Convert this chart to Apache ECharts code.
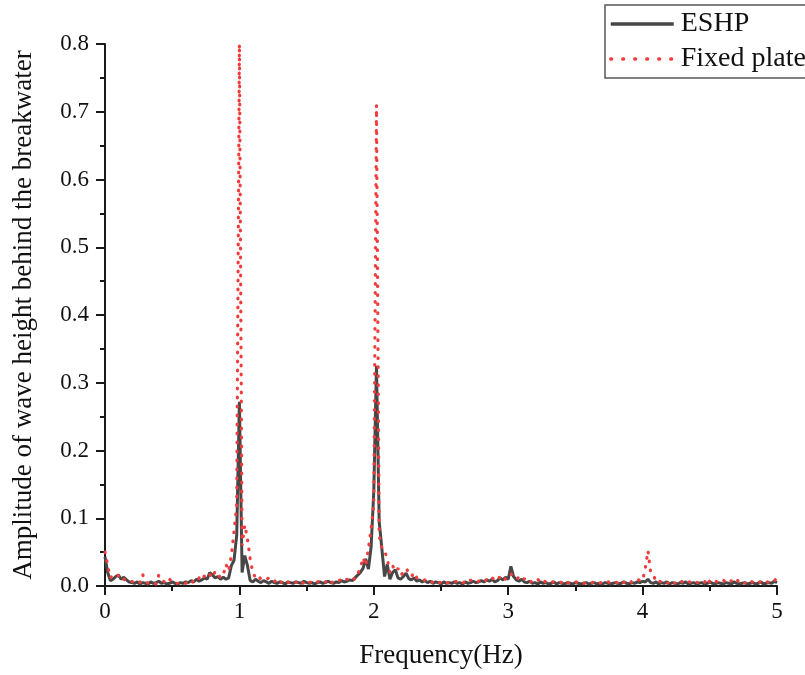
<!DOCTYPE html>
<html>
<head>
<meta charset="utf-8">
<script src="https://cdn.jsdelivr.net/npm/echarts@6/dist/echarts.min.js"></script>
<style>
  html, body { margin: 0; padding: 0; background: #fff; }
  #chart { width: 805px; height: 675px; }
</style>
</head>
<body>
<div id="chart"></div>
<script>
// Frequency bins (Hz), 0.02 Hz spacing
const FREQ = [
  0, 0.02, 0.04, 0.06, 0.08, 0.1, 0.12, 0.14, 0.16, 0.18,
  0.2, 0.22, 0.24, 0.26, 0.28, 0.3, 0.32, 0.34, 0.36, 0.38,
  0.4, 0.42, 0.44, 0.46, 0.48, 0.5, 0.52, 0.54, 0.56, 0.58,
  0.6, 0.62, 0.64, 0.66, 0.68, 0.7, 0.72, 0.74, 0.76, 0.78,
  0.8, 0.82, 0.84, 0.86, 0.88, 0.9, 0.92, 0.94, 0.96, 0.98,
  1, 1.02, 1.04, 1.06, 1.08, 1.1, 1.12, 1.14, 1.16, 1.18,
  1.2, 1.22, 1.24, 1.26, 1.28, 1.3, 1.32, 1.34, 1.36, 1.38,
  1.4, 1.42, 1.44, 1.46, 1.48, 1.5, 1.52, 1.54, 1.56, 1.58,
  1.6, 1.62, 1.64, 1.66, 1.68, 1.7, 1.72, 1.74, 1.76, 1.78,
  1.8, 1.82, 1.84, 1.86, 1.88, 1.9, 1.92, 1.94, 1.96, 1.98,
  2, 2.02, 2.04, 2.06, 2.08, 2.1, 2.12, 2.14, 2.16, 2.18,
  2.2, 2.22, 2.24, 2.26, 2.28, 2.3, 2.32, 2.34, 2.36, 2.38,
  2.4, 2.42, 2.44, 2.46, 2.48, 2.5, 2.52, 2.54, 2.56, 2.58,
  2.6, 2.62, 2.64, 2.66, 2.68, 2.7, 2.72, 2.74, 2.76, 2.78,
  2.8, 2.82, 2.84, 2.86, 2.88, 2.9, 2.92, 2.94, 2.96, 2.98,
  3, 3.02, 3.04, 3.06, 3.08, 3.1, 3.12, 3.14, 3.16, 3.18,
  3.2, 3.22, 3.24, 3.26, 3.28, 3.3, 3.32, 3.34, 3.36, 3.38,
  3.4, 3.42, 3.44, 3.46, 3.48, 3.5, 3.52, 3.54, 3.56, 3.58,
  3.6, 3.62, 3.64, 3.66, 3.68, 3.7, 3.72, 3.74, 3.76, 3.78,
  3.8, 3.82, 3.84, 3.86, 3.88, 3.9, 3.92, 3.94, 3.96, 3.98,
  4, 4.02, 4.04, 4.06, 4.08, 4.1, 4.12, 4.14, 4.16, 4.18,
  4.2, 4.22, 4.24, 4.26, 4.28, 4.3, 4.32, 4.34, 4.36, 4.38,
  4.4, 4.42, 4.44, 4.46, 4.48, 4.5, 4.52, 4.54, 4.56, 4.58,
  4.6, 4.62, 4.64, 4.66, 4.68, 4.7, 4.72, 4.74, 4.76, 4.78,
  4.8, 4.82, 4.84, 4.86, 4.88, 4.9, 4.92, 4.94, 4.96, 4.98,
  5
];

// Wave height amplitude behind the ESHP breakwater
const ESHP = [
  0.043, 0.020, 0.008, 0.010, 0.014, 0.016, 0.010, 0.013, 0.009, 0.006,
  0.005, 0.004, 0.006, 0.003, 0.005, 0.004, 0.003, 0.006, 0.004, 0.005,
  0.007, 0.004, 0.005, 0.003, 0.004, 0.006, 0.004, 0.003, 0.005, 0.004,
  0.006, 0.005, 0.008, 0.006, 0.010, 0.007, 0.009, 0.012, 0.010, 0.020,
  0.016, 0.012, 0.014, 0.010, 0.013, 0.010, 0.012, 0.030, 0.038, 0.075,
  0.272, 0.020, 0.045, 0.030, 0.008, 0.006, 0.010, 0.007, 0.005, 0.008,
  0.006, 0.004, 0.007, 0.005, 0.004, 0.006, 0.005, 0.003, 0.006, 0.005,
  0.004, 0.006, 0.005, 0.004, 0.007, 0.005, 0.004, 0.005, 0.003, 0.005,
  0.006, 0.004, 0.005, 0.007, 0.005, 0.004, 0.006, 0.005, 0.008, 0.006,
  0.007, 0.009, 0.008, 0.012, 0.016, 0.020, 0.026, 0.040, 0.025, 0.058,
  0.140, 0.325, 0.095, 0.055, 0.014, 0.032, 0.010, 0.020, 0.024, 0.012,
  0.010, 0.014, 0.019, 0.011, 0.009, 0.012, 0.007, 0.009, 0.006, 0.008,
  0.005, 0.007, 0.004, 0.006, 0.005, 0.003, 0.006, 0.004, 0.005, 0.004,
  0.006, 0.004, 0.005, 0.003, 0.006, 0.004, 0.005, 0.007, 0.005, 0.006,
  0.008, 0.006, 0.009, 0.007, 0.010, 0.006, 0.008, 0.012, 0.009, 0.013,
  0.010, 0.029, 0.014, 0.009, 0.007, 0.010, 0.006, 0.005, 0.007, 0.004,
  0.005, 0.003, 0.006, 0.004, 0.005, 0.003, 0.004, 0.006, 0.003, 0.005,
  0.004, 0.003, 0.005, 0.004, 0.003, 0.005, 0.004, 0.003, 0.004, 0.005,
  0.003, 0.004, 0.005, 0.003, 0.004, 0.003, 0.005, 0.004, 0.003, 0.004,
  0.005, 0.003, 0.004, 0.006, 0.004, 0.003, 0.005, 0.004, 0.006, 0.005,
  0.007, 0.006, 0.010, 0.005, 0.004, 0.006, 0.003, 0.005, 0.004, 0.006,
  0.003, 0.005, 0.004, 0.003, 0.005, 0.004, 0.006, 0.003, 0.004, 0.005,
  0.003, 0.004, 0.005, 0.003, 0.004, 0.006, 0.004, 0.003, 0.005, 0.004,
  0.003, 0.005, 0.004, 0.003, 0.006, 0.004, 0.003, 0.004, 0.005, 0.003,
  0.004, 0.005, 0.003, 0.004, 0.006, 0.003, 0.004, 0.005, 0.004, 0.007,
  0.005
];

// Wave height amplitude behind the fixed plate
const FIXED_PLATE = [
  0.050, 0.030, 0.012, 0.016, 0.018, 0.015, 0.017, 0.010, 0.008, 0.006,
  0.007, 0.004, 0.006, 0.005, 0.017, 0.008, 0.004, 0.006, 0.005, 0.003,
  0.016, 0.012, 0.006, 0.004, 0.010, 0.006, 0.003, 0.004, 0.005, 0.003,
  0.004, 0.006, 0.003, 0.008, 0.006, 0.012, 0.008, 0.015, 0.012, 0.017,
  0.012, 0.022, 0.018, 0.012, 0.016, 0.032, 0.022, 0.045, 0.080, 0.120,
  0.800, 0.060, 0.090, 0.070, 0.040, 0.020, 0.012, 0.015, 0.010, 0.012,
  0.010, 0.012, 0.008, 0.006, 0.011, 0.007, 0.005, 0.009, 0.006, 0.004,
  0.007, 0.005, 0.009, 0.006, 0.004, 0.008, 0.005, 0.007, 0.004, 0.006,
  0.008, 0.005, 0.006, 0.009, 0.004, 0.007, 0.005, 0.008, 0.010, 0.007,
  0.010, 0.008, 0.012, 0.010, 0.018, 0.026, 0.042, 0.030, 0.055, 0.085,
  0.120, 0.710, 0.075, 0.055, 0.052, 0.040, 0.020, 0.030, 0.022, 0.026,
  0.016, 0.020, 0.026, 0.020, 0.014, 0.020, 0.012, 0.010, 0.008, 0.009,
  0.006, 0.008, 0.005, 0.007, 0.004, 0.006, 0.008, 0.005, 0.004, 0.006,
  0.005, 0.008, 0.006, 0.004, 0.007, 0.005, 0.009, 0.006, 0.005, 0.007,
  0.009, 0.006, 0.010, 0.008, 0.012, 0.009, 0.014, 0.012, 0.016, 0.010,
  0.012, 0.018, 0.014, 0.010, 0.013, 0.008, 0.011, 0.006, 0.008, 0.005,
  0.007, 0.010, 0.005, 0.008, 0.006, 0.004, 0.007, 0.005, 0.004, 0.006,
  0.005, 0.008, 0.004, 0.006, 0.005, 0.007, 0.004, 0.005, 0.003, 0.006,
  0.005, 0.004, 0.007, 0.005, 0.004, 0.006, 0.005, 0.007, 0.004, 0.005,
  0.006, 0.004, 0.008, 0.005, 0.006, 0.009, 0.005, 0.007, 0.010, 0.008,
  0.008, 0.026, 0.052, 0.020, 0.017, 0.006, 0.008, 0.005, 0.007, 0.004,
  0.005, 0.008, 0.004, 0.006, 0.009, 0.005, 0.004, 0.007, 0.005, 0.008,
  0.006, 0.004, 0.007, 0.005, 0.012, 0.006, 0.004, 0.008, 0.005, 0.006,
  0.009, 0.005, 0.004, 0.008, 0.006, 0.010, 0.005, 0.007, 0.004, 0.006,
  0.009, 0.005, 0.006, 0.008, 0.004, 0.005, 0.007, 0.005, 0.004, 0.008,
  0.012
];

const SERIES_NAMES = ['ESHP', 'Fixed plate'];
const X_TICKS = [0, 1, 2, 3, 4, 5];
const Y_TICKS = [0.0, 0.1, 0.2, 0.3, 0.4, 0.5, 0.6, 0.7, 0.8];

const SERIF = '"Liberation Serif", "Times New Roman", serif';
const AXIS_COLOR = '#1a1a1a';
const ESHP_COLOR = '#474747';
const FIXED_COLOR = '#f03c3c';

const pair = (vals) => FREQ.map((f, i) => [f, vals[i]]);

const chart = echarts.init(document.getElementById('chart'), null, { renderer: 'canvas' });

const axisCommon = {
  axisLine: { show: true, onZero: false, lineStyle: { color: AXIS_COLOR, width: 2 } },
  axisTick: { show: true, inside: false, length: 9, lineStyle: { color: AXIS_COLOR, width: 2 } },
  minorTick: { show: true, splitNumber: 2, length: 5, lineStyle: { color: AXIS_COLOR, width: 2 } },
  splitLine: { show: false },
  minorSplitLine: { show: false },
  nameTextStyle: { fontFamily: SERIF, fontSize: 27, color: '#111' }
};

chart.setOption({
  animation: false,
  backgroundColor: '#fff',
  grid: { left: 105, right: 28, top: 44, bottom: 89, containLabel: false },
  legend: {
    data: [
      { name: SERIES_NAMES[0], lineStyle: { color: ESHP_COLOR, width: 3.5, type: 'solid' } },
      { name: SERIES_NAMES[1], lineStyle: { color: FIXED_COLOR, width: 3.5, type: [0.8, 11.2], cap: 'round' } }
    ],
    orient: 'vertical',
    left: 605,
    top: 5,
    itemWidth: 63,
    itemHeight: 14,
    itemGap: 7,
    padding: [5, 8, 5, 4],
    borderColor: '#555',
    borderWidth: 1.5,
    borderRadius: 0,
    // line-only legend keys: the marker symbol is hidden
    itemStyle: { opacity: 0 },
    textStyle: { fontFamily: SERIF, fontSize: 28, color: '#111', padding: [0, 0, 0, 2] }
  },
  xAxis: Object.assign({}, axisCommon, {
    type: 'value',
    min: X_TICKS[0],
    max: X_TICKS[X_TICKS.length - 1],
    interval: 1,
    name: 'Frequency(Hz)',
    nameLocation: 'middle',
    nameGap: 56,
    axisLabel: { fontFamily: SERIF, fontSize: 23, color: '#111', margin: 14 }
  }),
  yAxis: Object.assign({}, axisCommon, {
    type: 'value',
    min: Y_TICKS[0],
    max: Y_TICKS[Y_TICKS.length - 1],
    interval: 0.1,
    name: 'Amplitude of wave height behind the breakwater',
    nameLocation: 'middle',
    nameGap: 68,
    axisLabel: {
      fontFamily: SERIF, fontSize: 23, color: '#111', margin: 16,
      formatter: (v) => v.toFixed(1)
    }
  }),
  series: [
    {
      name: SERIES_NAMES[0],
      type: 'line',
      data: pair(ESHP),
      symbol: 'none',
      color: ESHP_COLOR,
      lineStyle: { color: ESHP_COLOR, width: 3 },
      z: 2
    },
    {
      name: SERIES_NAMES[1],
      type: 'line',
      data: pair(FIXED_PLATE),
      symbol: 'none',
      color: FIXED_COLOR,
      lineStyle: { color: FIXED_COLOR, width: 3.2, type: [0.6, 8.4], cap: 'round' },
      z: 3
    }
  ]
});
</script>
</body>
</html>
